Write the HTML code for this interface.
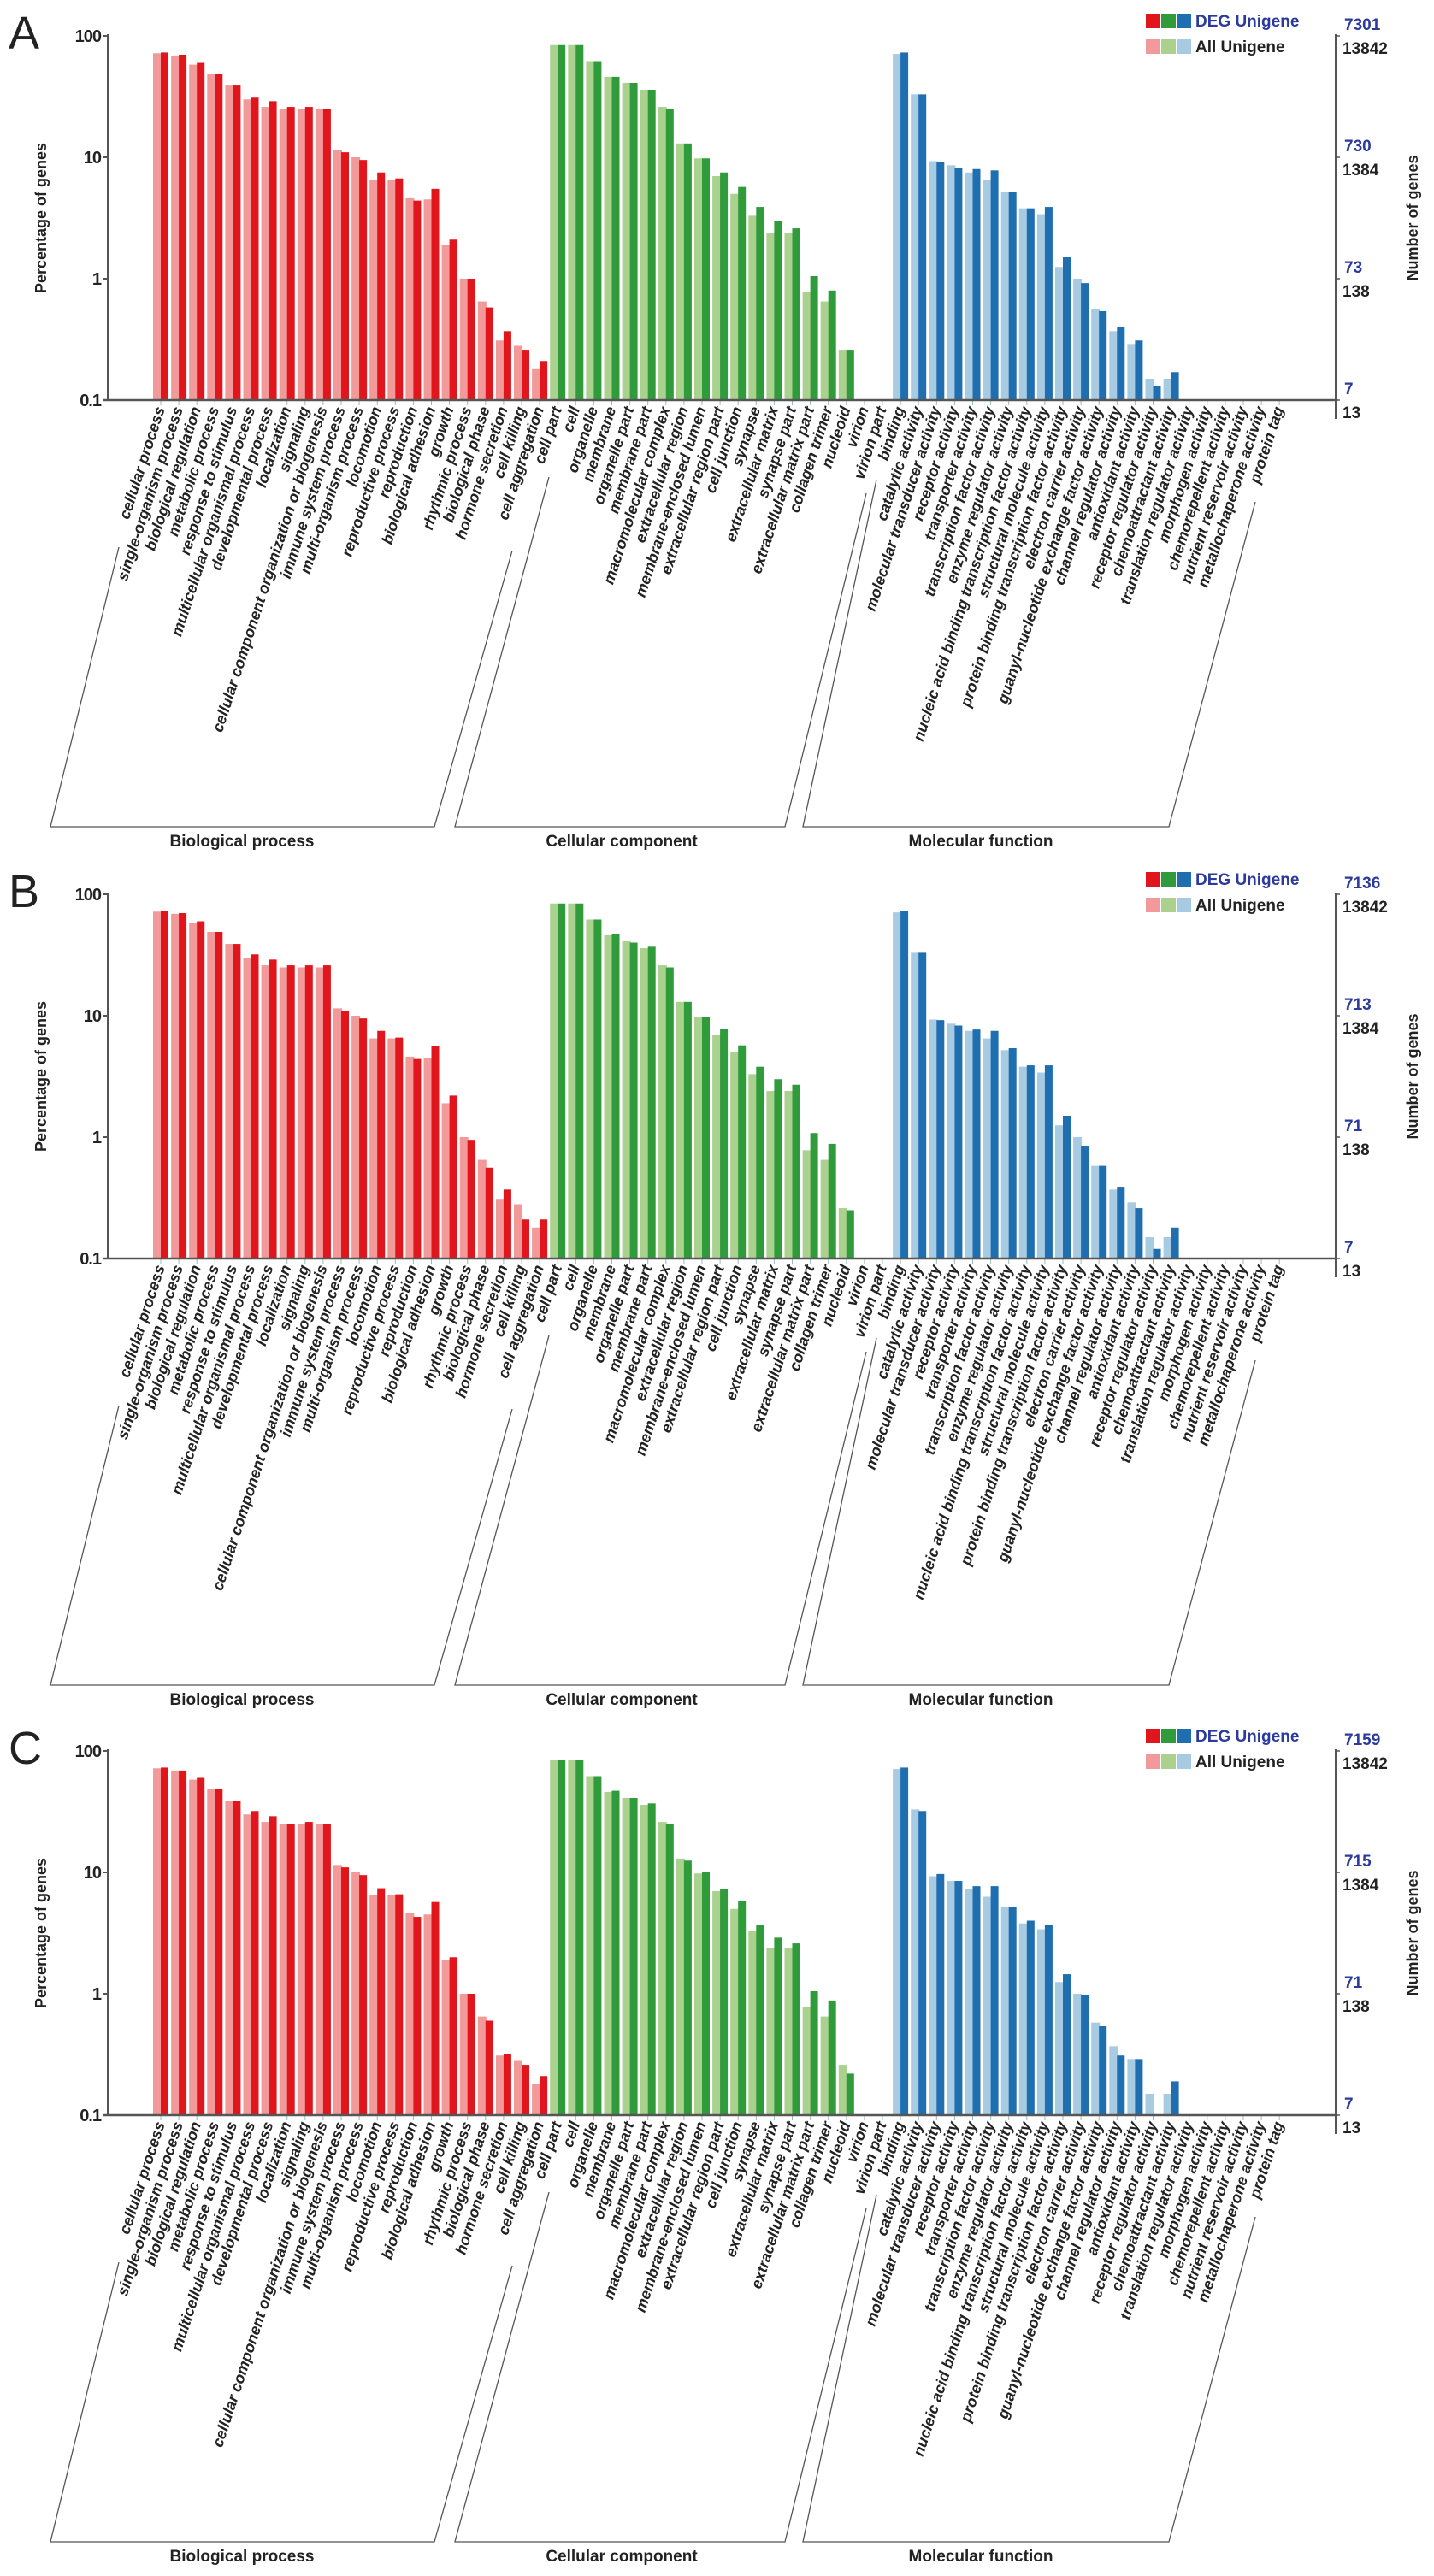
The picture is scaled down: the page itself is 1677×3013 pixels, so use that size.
<!DOCTYPE html>
<html><head><meta charset="utf-8"><title>GO classification</title>
<style>
html,body{margin:0;padding:0;background:#fff;}
svg{display:block;font-family:"Liberation Sans",Arial,sans-serif;}
</style></head>
<body>
<svg id="chart" width="1677" height="3013" viewBox="0 0 1677 3013" xmlns="http://www.w3.org/2000/svg"></svg>
<script>
const categories = ["cellular process","single-organism process","biological regulation","metabolic process","response to stimulus","multicellular organismal process","developmental process","localization","signaling","cellular component organization or biogenesis","immune system process","multi-organism process","locomotion","reproductive process","reproduction","biological adhesion","growth","rhythmic process","biological phase","hormone secretion","cell killing","cell aggregation",
"cell part","cell","organelle","membrane","organelle part","membrane part","macromolecular complex","extracellular region","membrane-enclosed lumen","extracellular region part","cell junction","synapse","extracellular matrix","synapse part","extracellular matrix part","collagen trimer","nucleoid","virion","virion part",
"binding","catalytic activity","molecular transducer activity","receptor activity","transporter activity","transcription factor activity","enzyme regulator activity","nucleic acid binding transcription factor activity","structural molecule activity","protein binding transcription factor activity","electron carrier activity","guanyl-nucleotide exchange factor activity","channel regulator activity","antioxidant activity","receptor regulator activity","chemoattractant activity","translation regulator activity","morphogen activity","chemorepellent activity","nutrient reservoir activity","metallochaperone activity","protein tag"];
const groupSizes = [22, 19, 22];
const groupTitles = ["Biological process","Cellular component","Molecular function"];
const leftTicks = [100, 10, 1, 0.1];
const leftTickLabels = ["100","10","1","0.1"];
const panelLetters = ["A","B","C"];
const allTickLabels = ["13842","1384","138","13"];
const degTickLabelsA = ["7301","730","73","7"];
const degTickLabelsB = ["7136","713","71","7"];
const degTickLabelsC = ["7159","715","71","7"];

const allA = [72,69,58,49,39,30,26,25,25,25,11.5,10,6.5,6.5,4.6,4.5,1.9,1.0,0.65,0.31,0.28,0.18,
84,84,62,46,41,36,26,13,9.8,7,5,3.3,2.4,2.4,0.78,0.65,0.26,0,0,
71,33,9.3,8.6,7.5,6.5,5.2,3.8,3.4,1.25,1.0,0.56,0.37,0.29,0.15,0.15,0,0,0,0,0,0];
const degA = [73,70,60,49,39,31,29,26,26,25,11,9.5,7.5,6.7,4.4,5.5,2.1,1.0,0.58,0.37,0.26,0.21,
84,84,62,46,41,36,25,13,9.8,7.5,5.7,3.9,3.0,2.6,1.05,0.8,0.26,0,0,
73,33,9.2,8.2,8.0,7.8,5.2,3.8,3.9,1.5,0.92,0.54,0.40,0.31,0.13,0.17,0,0,0,0,0,0];
const allB = [72,69,58,49,39,30,26,25,25,25,11.5,10,6.5,6.5,4.6,4.5,1.9,1.0,0.65,0.31,0.28,0.18,
84,84,62,46,41,36,26,13,9.8,7,5,3.3,2.4,2.4,0.78,0.65,0.26,0,0,
71,33,9.3,8.6,7.5,6.5,5.2,3.8,3.4,1.25,1.0,0.58,0.37,0.29,0.15,0.15,0,0,0,0,0,0];
const degB = [73,70,60,49,39,32,29,26,26,26,11,9.5,7.5,6.6,4.4,5.6,2.2,0.95,0.56,0.37,0.21,0.21,
84,84,62,47,40,37,25,13,9.8,7.8,5.7,3.8,3.0,2.7,1.08,0.88,0.25,0,0,
73,33,9.2,8.3,7.7,7.5,5.4,3.9,3.9,1.5,0.85,0.58,0.39,0.26,0.12,0.18,0,0,0,0,0,0];
const allC = [72,69,58,49,39,30,26,25,25,25,11.5,10,6.5,6.5,4.6,4.5,1.9,1.0,0.65,0.31,0.28,0.18,
84,84,62,46,41,36,26,13,9.8,7,5,3.3,2.4,2.4,0.78,0.65,0.26,0,0,
71,33,9.3,8.5,7.3,6.3,5.2,3.8,3.4,1.25,1.0,0.58,0.37,0.29,0.15,0.15,0,0,0,0,0,0];
const degC = [73,69,60,49,39,32,29,25,26,25,11,9.5,7.4,6.6,4.3,5.7,2.0,1.0,0.6,0.32,0.26,0.21,
85,85,62,47,41,37,25,12.5,10,7.3,5.8,3.7,2.9,2.6,1.05,0.88,0.22,0,0,
73,32,9.7,8.5,7.7,7.7,5.2,4.0,3.7,1.45,0.98,0.54,0.31,0.29,0,0.19,0,0,0,0,0,0];

const panels = [
  {off:0, all:allA, deg:degA, degLabels:degTickLabelsA},
  {off:1004, all:allB, deg:degB, degLabels:degTickLabelsB},
  {off:2006, all:allC, deg:degC, degLabels:degTickLabelsC}
];
const darkCols = ["#e0161c","#2f9b3b","#1f6eb0"];
const lightCols = ["#f29a9a","#abd18f","#a8cbe4"];

const NS = "http://www.w3.org/2000/svg";
const svg = document.getElementById("chart");
function mk(tag, attrs, parent){
  const e = document.createElementNS(NS, tag);
  for (const k in attrs) e.setAttribute(k, attrs[k]);
  (parent||svg).appendChild(e);
  return e;
}
const AX_L = 126, AX_R = 1562, TOP = 40, BASE = 468, DEC = 142;
const X0 = 188, PITCH = 21.1;
function yScale(v, off){ return off + BASE - DEC*(Math.log10(v)+1); }
function xScale(i){ return X0 + i*PITCH; }
function groupOf(i){ return i < groupSizes[0] ? 0 : (i < groupSizes[0]+groupSizes[1] ? 1 : 2); }

panels.forEach((p, pi) => {
  const off = p.off;
  const g = mk("g", {});
  
  

  const letter = mk("text", {x:10, y:off+57, "font-size":54, fill:"#222"}, g);
  letter.textContent = panelLetters[pi];
  
  

  // bars
  categories.forEach((c, i) => {
    const gi = groupOf(i);
    const cx = xScale(i);
    const a = p.all[i], d = p.deg[i];
    if (a > 0) {
      const y = yScale(a, off);
      const r = mk("rect", {x:cx-9, y:y, width:10, height:off+BASE-y, fill:lightCols[gi]}, g);
      
      
    }
    if (d > 0) {
      const y = yScale(d, off);
      const r = mk("rect", {x:cx, y:y, width:9, height:off+BASE-y, fill:darkCols[gi]}, g);
      
      
    }
    const t = mk("line", {x1:cx, x2:cx, y1:off+BASE, y2:off+BASE+6, stroke:"#9bb", "stroke-width":1}, g);
    
    
    const lx = cx + 5, ly = off + BASE + 10;
    const lab = mk("text", {x:lx, y:ly, "font-size":18, "font-weight":"bold", "font-style":"italic", fill:"#222", "text-anchor":"end", transform:`rotate(-72 ${lx} ${ly})`}, g);
    lab.textContent = c;
    
    
  });

  // axes
  const la = mk("line", {x1:AX_L, x2:AX_L, y1:off+TOP, y2:off+BASE, stroke:"#555", "stroke-width":2}, g);
  
  
  const ba = mk("line", {x1:AX_L-6, x2:AX_R, y1:off+BASE, y2:off+BASE, stroke:"#555", "stroke-width":2.5}, g);
  
  
  const ra = mk("line", {x1:AX_R, x2:AX_R, y1:off+TOP, y2:off+BASE+22, stroke:"#555", "stroke-width":2}, g);
  
  

  leftTicks.forEach((v, k) => {
    const y = yScale(v, off);
    const tk = mk("line", {x1:AX_L-6, x2:AX_L, y1:y, y2:y, stroke:"#555", "stroke-width":2}, g);
    
    
    const tl = mk("text", {x:AX_L-8, y:y+7, "font-size":20, "font-weight":"bold", fill:"#222", "text-anchor":"end", "letter-spacing":"-1"}, g);
    tl.textContent = leftTickLabels[k];
    
    

    const rt = mk("line", {x1:AX_R, x2:AX_R+5, y1:y, y2:y, stroke:"#555", "stroke-width":1.5}, g);
    
    
    const bl = mk("text", {x:AX_R+10, y:y-7, "font-size":19, "font-weight":"bold", fill:"#2b3a9c"}, g);
    bl.textContent = p.degLabels[k];
    
    
    const kl = mk("text", {x:AX_R+8, y:y+21, "font-size":19, "font-weight":"bold", fill:"#222"}, g);
    kl.textContent = allTickLabels[k];
    
    
  });

  const yl = mk("text", {x:54, y:off+255, "font-size":18, "font-weight":"bold", fill:"#222", "text-anchor":"middle", transform:`rotate(-90 54 ${off+255})`}, g);
  yl.textContent = "Percentage of genes";
  
  
  const yr = mk("text", {x:1658, y:off+255, "font-size":18, "font-weight":"bold", fill:"#222", "text-anchor":"middle", transform:`rotate(-90 1658 ${off+255})`}, g);
  yr.textContent = "Number of genes";
  
  

  // legend
  for (let k = 0; k < 3; k++) {
    const s1 = mk("rect", {x:1340+k*18, y:off+16, width:17, height:17, fill:darkCols[k]}, g);
    
    
    const s2 = mk("rect", {x:1340+k*18, y:off+46, width:17, height:17, fill:lightCols[k]}, g);
    
    
  }
  const l1 = mk("text", {x:1398, y:off+31, "font-size":19, "font-weight":"bold", fill:"#2b3a9c"}, g);
  l1.textContent = "DEG Unigene";
  
  
  const l2 = mk("text", {x:1398, y:off+61, "font-size":19, "font-weight":"bold", fill:"#222"}, g);
  l2.textContent = "All Unigene";
  
  

  // group brackets
  const brackets = [
    [[139,640],[59,967],[508,967],[599,644]],
    [[642,558],[532,967],[918,967],[1013,577]],
    [[1025,561],[939,967],[1367,967],[1468,587]]
  ];
  const titleX = [283, 727, 1147];
  brackets.forEach((b, k) => {
    const pts = b.map(q => q[0] + "," + (q[1]+off)).join(" ");
    const pl = mk("polyline", {points:pts, fill:"none", stroke:"#555", "stroke-width":1.3}, g);
    
    
    const tt = mk("text", {x:titleX[k], y:off+990, "font-size":19, "font-weight":"bold", fill:"#222", "text-anchor":"middle"}, g);
    tt.textContent = groupTitles[k];
    
    
  });
});
</script>
</body></html>
